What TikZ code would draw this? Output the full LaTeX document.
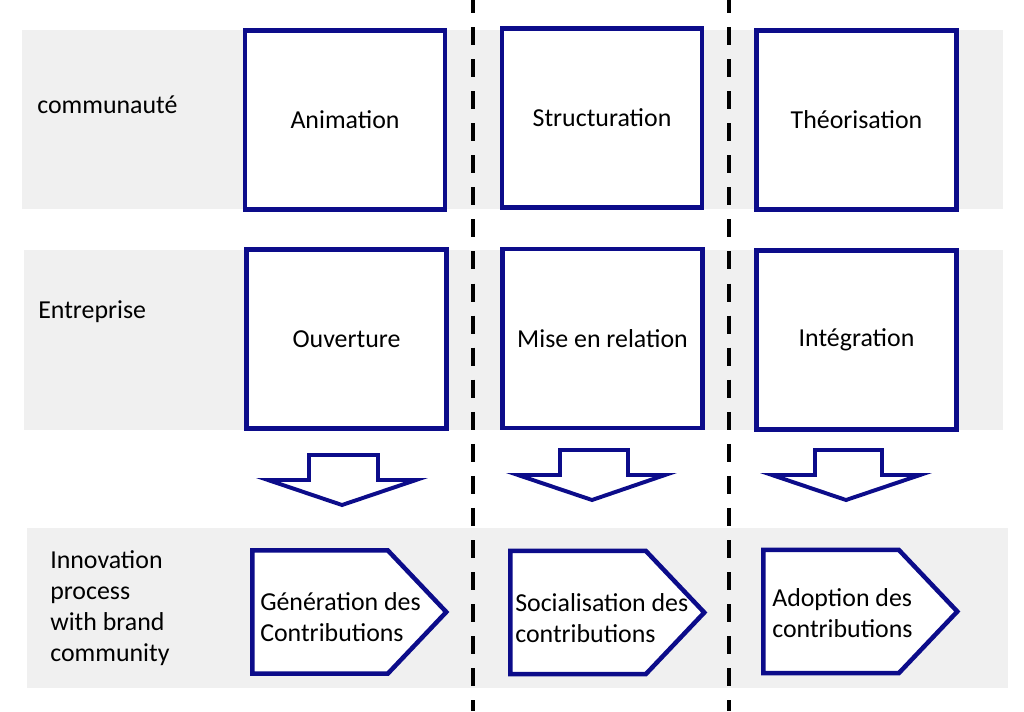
\documentclass[tikz,border=0pt]{standalone}
\usepackage{fontspec}
\setmainfont{Carlito}
\usepackage{tikz}
\definecolor{marine}{HTML}{0C0C8A}
\definecolor{fond}{HTML}{F0F0F0}
\usetikzlibrary{shapes.symbols}
\tikzset{bande/.style={
    fill=fond}}
\tikzset{boite/.style={
  draw=marine,
  line width=3.2pt,
  fill=white,
  minimum width=5cm,
  minimum height=4.475cm,
  inner sep=0,
  font=\fontsize{18.4}{22}\selectfont}}
\tikzset{etape/.style={
  signal,
  signal to=east,
  signal pointer angle=93,
  draw=marine,
  line width=3.2pt,
  fill=white,
  anchor=west,
  minimum width=4.85cm,
  minimum height=3.075cm,
  inner sep=0}}
\tikzset{fleche/.style={
  draw=marine,
  line width=2.8pt,
  fill=white,
  line join=miter}}
\tikzset{separateur/.style={
  line width=3.5pt,
  dash pattern=on 12.8pt off 10pt}}
\tikzset{titre/.style={
  anchor=west,
  align=left,
  inner sep=0,
  font=\fontsize{18.4}{22}\selectfont}}

\begin{document}
\begin{tikzpicture}[x=0.025cm, y=-0.025cm]
  \useasboundingbox (0,0) rectangle (1024,711);

  \fill[bande] (22,30) rectangle (1003,209);
  \fill[bande] (24,250) rectangle (1003,430);
  \fill[bande] (27,528) rectangle (1008,688);

  \draw[separateur] (473,-5) -- (473,711);
  \draw[separateur] (729,-5) -- (729,711);

  \node[titre] (communaute) at (37,105) {communauté};
  \node[titre] (entreprise) at (38,312) {Entreprise};
  \node[titre] (innovation) at (50,608) {Innovation\\process\\with brand\\community};

\node[boite] (animation) at (345,120) {Animation};
\node[boite] (structuration) at (602,118) {Structuration};
\node[boite] (theorisation) at (856.5,120) {Théorisation};

\node[boite] (ouverture) at (346.5,339) {Ouverture};
\node[boite] (relation) at (602.5,338.5) {Mise en relation};
\node[boite] (integration) at (856.5,340) {Intégration};

  \draw[fleche] (309,455) -- (378,455) -- (378,480) -- (416,480)
    -- (342,505) -- (268,480) -- (309,480) -- cycle;
  \draw[fleche] (560,450) -- (628,450) -- (628,475) -- (665,475)
    -- (592,500) -- (518,475) -- (560,475) -- cycle;
  \draw[fleche] (815,450) -- (882,450) -- (882,475) -- (920,475)
    -- (846,500) -- (772,475) -- (815,475) -- cycle;

\node[etape] (generation) at (250,612) {};
\node[etape] (socialisation) at (508,612.5) {};
\node[etape] (adoption) at (761,611.5) {};

  \node[titre] (tgeneration) at (260,617) {Génération des\\Contributions};
  \node[titre] (tsocialisation) at (515,618) {Socialisation des\\contributions};
  \node[titre] (tadoption) at (772,613) {Adoption des\\contributions};
\end{tikzpicture}
\end{document}
